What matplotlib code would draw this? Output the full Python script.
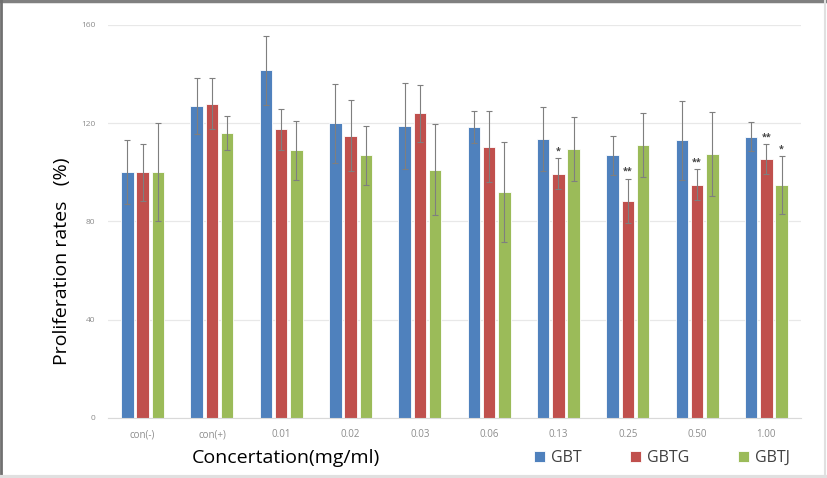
import matplotlib
matplotlib.use("Agg")
import matplotlib.pyplot as plt
import numpy as np

plt.rcParams['font.family'] = ['Open Sans', 'DejaVu Sans']

# data
categories = ["con(-)", "con(+)", "0.01", "0.02", "0.03", "0.06", "0.13", "0.25", "0.50", "1.00"]
gbt = [100, 127, 141.5, 120, 119, 118.5, 113.5, 107, 113, 114.5]
gbtg = [100, 128, 117.5, 115, 124, 110.5, 99.5, 88.5, 95, 105.5]
gbtj = [100, 116, 109, 107, 101, 92, 109.5, 111, 107.5, 95]
gbt_err = [13, 11.5, 14, 16, 17.5, 6.5, 13, 8, 16, 6]
gbtg_err = [11.5, 10.5, 8.5, 14.5, 11.5, 14.5, 6.3, 9, 6.3, 6]
gbtj_err = [20, 7, 12, 12, 18.5, 20.5, 13, 13, 17, 11.8]
gbtg_sig = ["", "", "", "", "", "", "*", "**", "**", "**"]
gbtj_sig = ["", "", "", "", "", "", "", "", "", "*"]
series_names = ["GBT", "GBTG", "GBTJ"]
yticks = [0, 40, 80, 120, 160]

colors = ["#4F81BD", "#C0504D", "#9BBB59"]

fig = plt.figure(figsize=(8.27, 4.78), dpi=100)
ax = fig.add_axes([108/827, 1 - 418/478, (801 - 108)/827, (418 - 25)/478])

x = np.arange(len(categories))
offsets = [-0.22, 0, 0.22]
width = 0.18
vals = [gbt, gbtg, gbtj]
errs = [gbt_err, gbtg_err, gbtj_err]
sigs = [None, gbtg_sig, gbtj_sig]

handles = []
for i in range(3):
    b = ax.bar(x + offsets[i], vals[i], width, color=colors[i], edgecolor="white",
               linewidth=0.6, zorder=2, label=series_names[i])
    handles.append(b)
    ax.errorbar(x + offsets[i], vals[i], yerr=errs[i], fmt="none", ecolor="#7F7F7F",
                elinewidth=0.8, capsize=2, capthick=0.8, zorder=3)
    if sigs[i] is not None:
        for xi, v, e, s in zip(x, vals[i], errs[i], sigs[i]):
            if s:
                ax.text(xi + offsets[i], v + e + 1.0, s, ha="center", va="bottom",
                        fontsize=6.5, fontweight="bold", color="#404040")

ax.set_xlim(-0.5, len(categories) - 0.5)
ax.set_ylim(0, 160)
ax.set_yticks(yticks)
ax.set_xticks(x)
ax.set_xticklabels(categories)
ax.tick_params(axis="y", length=0, labelsize=6, labelcolor="#8C8C8C", pad=9)
ax.tick_params(axis="x", length=0, labelsize=7, labelcolor="#8C8C8C", pad=8)
ax.grid(axis="y", color="#E8E8E8", linewidth=0.9, zorder=0)
ax.set_axisbelow(True)
for sp in ["top", "right", "left"]:
    ax.spines[sp].set_visible(False)
ax.spines["bottom"].set_color("#D9D9D9")

fig.text(62/827, 1 - 261/478, "Proliferation rates   (%)", rotation=90,
         ha="center", va="center", fontsize=14, color="black")
fig.text(286/827, 1 - 458/478, "Concertation(mg/ml)", ha="center", va="center",
         fontsize=14, color="black")

fig.legend(handles=handles, loc="center", bbox_to_anchor=(662/827, 1 - 458/478),
           ncol=3, frameon=False, fontsize=11.5, handlelength=0.7, handleheight=0.7,
           handletextpad=0.4, columnspacing=3.0, labelcolor="#404040")

# grey frame of the screenshot
fig.add_artist(plt.Line2D([0, 1], [0.998, 0.998], color="#808080", linewidth=2.5,
                          transform=fig.transFigure))
fig.add_artist(plt.Line2D([0.001, 0.001], [0, 1], color="#707070", linewidth=2,
                          transform=fig.transFigure))
fig.add_artist(plt.Line2D([0, 1], [0.002, 0.002], color="#E0E0E0", linewidth=3,
                          transform=fig.transFigure))
fig.add_artist(plt.Line2D([0.998, 0.998], [0, 1], color="#E0E0E0", linewidth=1.5,
                          transform=fig.transFigure))

fig.savefig("out.png", dpi=100)
